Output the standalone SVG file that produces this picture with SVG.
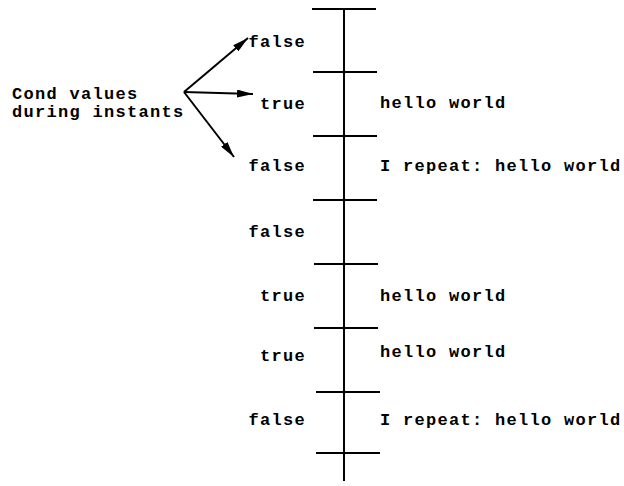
<svg xmlns="http://www.w3.org/2000/svg" width="624" height="486" viewBox="0 0 624 486">
  <style>
    .t { font-family: "Liberation Mono", "DejaVu Sans Mono", monospace; font-weight: bold; font-size: 17px; letter-spacing: 1.3px; fill: #000; }
    .l { text-anchor: end; }
    .ax { stroke: #000; stroke-width: 2; fill: none; }
  </style>
  <defs>
    <marker id="ah" viewBox="0 0 16 8" refX="16" refY="4" markerWidth="16" markerHeight="8" markerUnits="userSpaceOnUse" orient="auto">
      <path d="M0,0 L16,4 L0,8 Z" fill="#000"/>
    </marker>
  </defs>

  <!-- time line with instant boundaries -->
  <g id="timeline">
    <line class="ax" x1="344" y1="9" x2="344" y2="481"/>
    <line class="ax" x1="312" y1="9" x2="376" y2="9"/>
    <line class="ax" x1="313" y1="72" x2="377" y2="72"/>
    <line class="ax" x1="313" y1="136" x2="377" y2="136"/>
    <line class="ax" x1="313" y1="200" x2="377" y2="200"/>
    <line class="ax" x1="314" y1="264" x2="378" y2="264"/>
    <line class="ax" x1="314" y1="328" x2="378" y2="328"/>
    <line class="ax" x1="316" y1="392" x2="380" y2="392"/>
    <line class="ax" x1="316" y1="453" x2="380" y2="453"/>
  </g>

  <!-- condition label -->
  <g id="cond">
    <text class="t" x="12" y="99">Cond values</text>
    <text class="t" x="12" y="117">during instants</text>
  </g>

  <!-- condition value per instant (trailing letter-spacing offset via x) -->
  <g id="values">
    <text class="t l" x="306" y="47">false</text>
    <text class="t l" x="306" y="109">true</text>
    <text class="t l" x="306" y="171">false</text>
    <text class="t l" x="306" y="237">false</text>
    <text class="t l" x="306" y="301">true</text>
    <text class="t l" x="306" y="361">true</text>
    <text class="t l" x="306" y="425">false</text>
  </g>

  <!-- output per instant -->
  <g id="outputs">
    <text class="t" x="380" y="108">hello world</text>
    <text class="t" x="380" y="171">I repeat: hello world</text>
    <text class="t" x="380" y="301">hello world</text>
    <text class="t" x="380" y="357">hello world</text>
    <text class="t" x="380" y="425">I repeat: hello world</text>
  </g>

  <g id="connectors">
    <line class="ax" x1="184" y1="92" x2="248" y2="38" marker-end="url(#ah)"/>
    <line class="ax" x1="184" y1="92" x2="253" y2="94" marker-end="url(#ah)"/>
    <line class="ax" x1="184" y1="92" x2="234" y2="157" marker-end="url(#ah)"/>
  </g>
</svg>
